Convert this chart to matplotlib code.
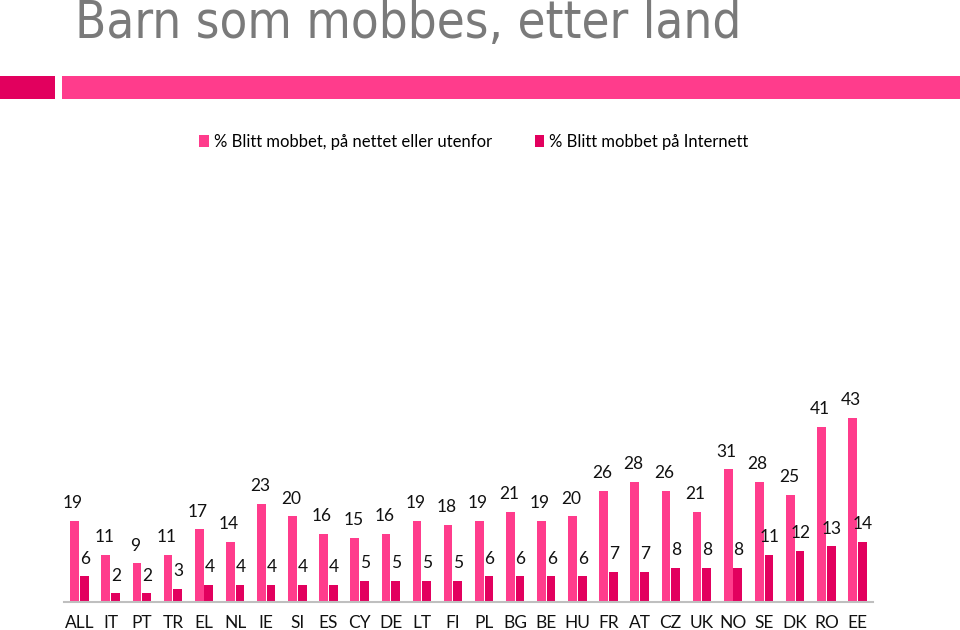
import matplotlib
matplotlib.use("Agg")
import matplotlib.pyplot as plt
from matplotlib import font_manager as fm
from matplotlib.patches import Rectangle
import numpy as np

countries = ["ALL", "IT", "PT", "TR", "EL", "NL", "IE", "SI", "ES", "CY", "DE", "LT", "FI",
             "PL", "BG", "BE", "HU", "FR", "AT", "CZ", "UK", "NO", "SE", "DK", "RO", "EE"]
total = [19, 11, 9, 11, 17, 14, 23, 20, 16, 15, 16, 19, 18,
         19, 21, 19, 20, 26, 28, 26, 21, 31, 28, 25, 41, 43]
internet = [6, 2, 2, 3, 4, 4, 4, 4, 4, 5, 5, 5, 5,
            6, 6, 6, 6, 7, 7, 8, 8, 8, 11, 12, 13, 14]
series_names = ["% Blitt mobbet, på nettet eller utenfor", "% Blitt mobbet på Internett"]
title = "Barn som mobbes, etter land"

PINK = "#FF3C8C"
DARK = "#E2005E"
FONT = "Lato"

# pick a narrow font for the title if available
names = {f.name for f in fm.fontManager.ttflist}
TITLE_FONT = FONT
TITLE_STRETCH = "normal"
if "Liberation Sans Narrow" in names:
    TITLE_FONT = "Liberation Sans Narrow"
elif any(f.name == "DejaVu Sans" and f.stretch == "condensed" for f in fm.fontManager.ttflist):
    TITLE_FONT = "DejaVu Sans"
    TITLE_STRETCH = "condensed"

W, H = 960, 630
fig = plt.figure(figsize=(9.6, 6.3), dpi=100)

def fx(px):
    return px / W

def fy(py):
    return 1 - py / H

# Header band
fig.patches.append(Rectangle((0, fy(99)), fx(55), (99 - 76) / H, transform=fig.transFigure,
                             facecolor=DARK, edgecolor="none"))
fig.patches.append(Rectangle((fx(62), fy(99)), 1 - fx(62), (99 - 76) / H, transform=fig.transFigure,
                             facecolor=PINK, edgecolor="none"))

# Title, scaled to width
t = fig.text(fx(75), fy(38), title, color="#7A7A7A", fontsize=40, family=TITLE_FONT,
             fontstretch=TITLE_STRETCH, ha="left", va="baseline")
fig.canvas.draw()
bb = t.get_window_extent()
t.set_fontsize(40 * 665 / bb.width)

# Axes
ax_left, ax_right, ax_bottom, ax_top = 64, 873, 602, 160
ax = fig.add_axes([fx(ax_left), fy(ax_bottom), fx(ax_right - ax_left), (ax_bottom - ax_top) / H])
n = len(countries)
x = np.arange(n)
w = 0.28
off = 0.155
ax.bar(x - off, total, width=w, color=PINK, label=series_names[0])
ax.bar(x + off, internet, width=w, color=DARK, label=series_names[1])
ax.set_xlim(-0.5, n - 0.5)
ppu = 184 / 43.0
ax.set_ylim(0, (ax_bottom - ax_top) / ppu)
for s in ["top", "right", "left"]:
    ax.spines[s].set_visible(False)
ax.spines["bottom"].set_color("#BFBFBF")
ax.spines["bottom"].set_linewidth(1.5)
ax.set_yticks([])
ax.set_xticks(x)
ax.set_xticklabels(countries, fontsize=12.5, family=FONT, color="#111111")
ax.tick_params(axis="x", length=0, pad=9)

for i in range(n):
    ax.annotate(str(total[i]), (x[i] - off - 0.05, total[i]), xytext=(0, 7), textcoords="offset points",
                ha="center", va="bottom", fontsize=12.5, family=FONT, color="#111111")
    ax.annotate(str(internet[i]), (x[i] + off + 0.02, internet[i]), xytext=(0, 7), textcoords="offset points",
                ha="center", va="bottom", fontsize=12.5, family=FONT, color="#111111")

# Legend
fig.legend(loc="center", bbox_to_anchor=(fx(474), fy(142)), ncol=2, frameon=False,
           prop={"family": FONT, "size": 12}, handlelength=0.55, handleheight=0.75,
           handletextpad=0.3, columnspacing=2.6)

fig.savefig("out.png", dpi=100)
